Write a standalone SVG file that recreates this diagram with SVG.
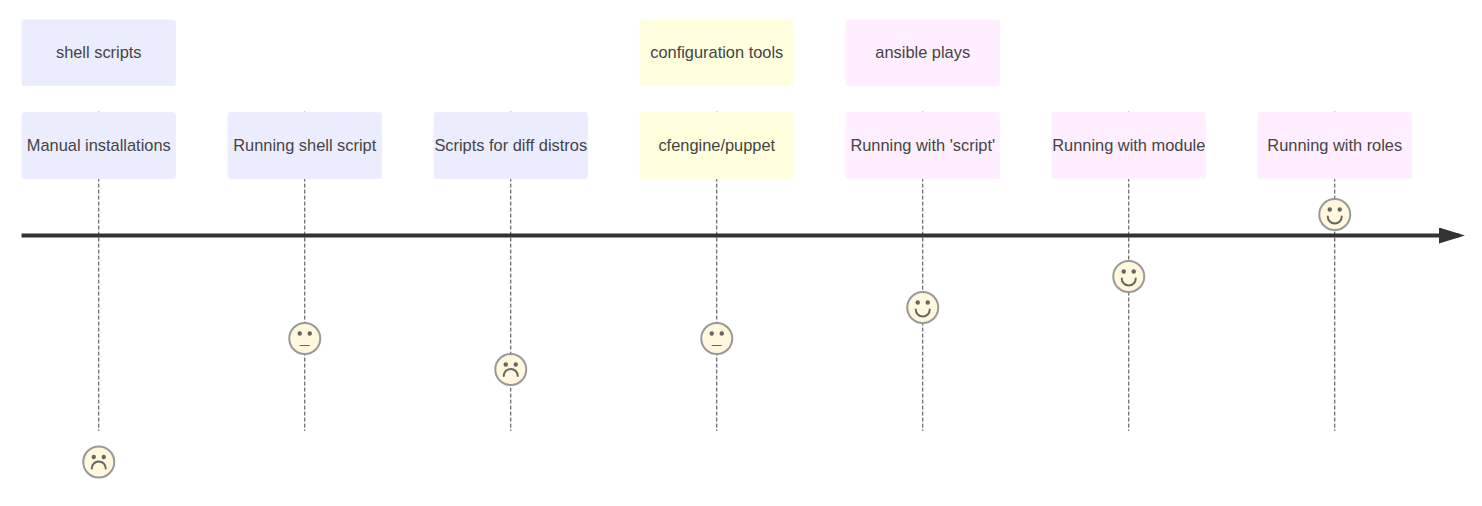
<svg xmlns="http://www.w3.org/2000/svg" width="1482" height="506" viewBox="0 0 1482 506">
<style>
text{font-family:"Liberation Sans",Arial,sans-serif;font-size:16.4px;fill:#444;text-anchor:middle;dominant-baseline:central}
.box{stroke:#fff;stroke-width:1;stroke-opacity:.2}
.s0{fill:#ececff}.s1{fill:#ffffde}.s2{fill:#ffeeff}
.drop{stroke:#444;stroke-width:1;stroke-dasharray:4 2;fill:none}
.face{fill:#fff8dc;stroke:#999;stroke-width:2}
.eye{fill:#666}
.mouth{fill:none;stroke:#666;stroke-width:2;stroke-linecap:round}
</style>
<defs>
<marker id="arrowhead" markerWidth="6.500" markerHeight="4" refX="5" refY="2" orient="auto"><path d="M0 0V4L6.500 2Z" fill="#333"/></marker>
<g id="sad"><circle class="face" r="15.500"/><circle class="eye" cx="-5" cy="-5" r="2.200"/><circle class="eye" cx="5" cy="-5" r="2.200"/><path class="mouth" d="M-7 6.500A7 7 0 0 1 7 6.500"/></g>
<g id="neutral"><circle class="face" r="15.500"/><circle class="eye" cx="-5" cy="-5" r="2.200"/><circle class="eye" cx="5" cy="-5" r="2.200"/><path d="M-5 7H5" fill="none" stroke="#666" stroke-width="1"/></g>
<g id="happy"><circle class="face" r="15.500"/><circle class="eye" cx="-5" cy="-5" r="2.200"/><circle class="eye" cx="5" cy="-5" r="2.200"/><path class="mouth" d="M-7 2A7 7 0 0 0 7 2"/></g>
</defs>
<g id="connectors">
<path class="drop" d="M98.750 111.600V431"/>
<path class="drop" d="M304.750 111.600V431"/>
<path class="drop" d="M510.750 111.600V431"/>
<path class="drop" d="M716.750 111.600V431"/>
<path class="drop" d="M922.750 111.600V431"/>
<path class="drop" d="M1128.750 111.600V431"/>
<path class="drop" d="M1334.750 111.600V431"/>
</g>
<g id="section-shell"><rect class="box s0" x="21.500" y="19.500" width="154.500" height="66.500" rx="3"/><text x="98.750" y="52">shell scripts</text></g>
<g id="section-config"><rect class="box s1" x="639.500" y="19.500" width="154.500" height="66.500" rx="3"/><text x="716.750" y="52">configuration tools</text></g>
<g id="section-ansible"><rect class="box s2" x="845.500" y="19.500" width="154.500" height="66.500" rx="3"/><text x="922.750" y="52">ansible plays</text></g>
<g id="task-manual"><rect class="box s0" x="21.500" y="112" width="154.500" height="67" rx="3"/><text x="98.750" y="145">Manual installations</text><use href="#sad" x="98.750" y="462"/></g>
<g id="task-shell"><rect class="box s0" x="227.500" y="112" width="154.500" height="67" rx="3"/><text x="304.750" y="145">Running shell script</text><use href="#neutral" x="304.750" y="338.500"/></g>
<g id="task-distros"><rect class="box s0" x="433.500" y="112" width="154.500" height="67" rx="3"/><text x="510.750" y="145">Scripts for diff distros</text><use href="#sad" x="510.750" y="369.500"/></g>
<g id="task-cfengine"><rect class="box s1" x="639.500" y="112" width="154.500" height="67" rx="3"/><text x="716.750" y="145">cfengine/puppet</text><use href="#neutral" x="716.750" y="338.500"/></g>
<g id="task-script"><rect class="box s2" x="845.500" y="112" width="154.500" height="67" rx="3"/><text x="922.750" y="145">Running with 'script'</text><use href="#happy" x="922.750" y="307.500"/></g>
<g id="task-module"><rect class="box s2" x="1051.500" y="112" width="154.500" height="67" rx="3"/><text x="1128.750" y="145">Running with module</text><use href="#happy" x="1128.750" y="276.500"/></g>
<g id="task-roles"><rect class="box s2" x="1257.500" y="112" width="154.500" height="67" rx="3"/><text x="1334.750" y="145">Running with roles</text><use href="#happy" x="1334.750" y="214.500"/></g>
<g id="axis"><path d="M21.500 235.500H1459" fill="none" stroke="#333" stroke-width="4" marker-end="url(#arrowhead)"/></g>
</svg>
